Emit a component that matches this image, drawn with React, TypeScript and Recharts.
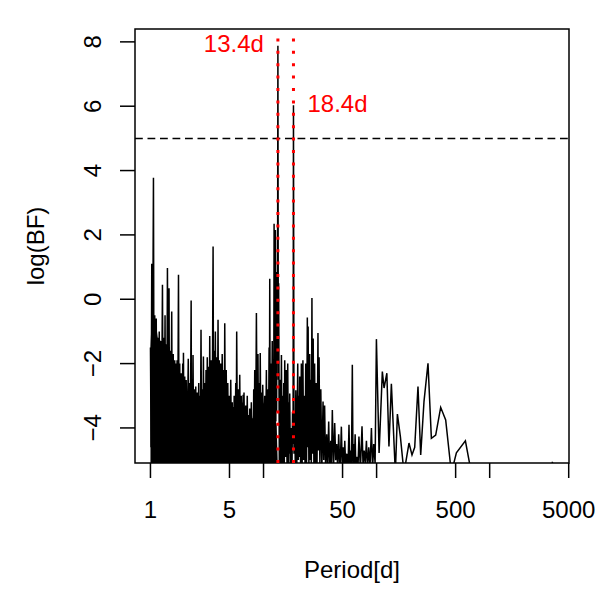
import { ComposedChart, Line, Area, XAxis, YAxis, ReferenceLine, ReferenceArea, ReferenceDot } from "recharts"

const font = '"Liberation Sans", Arial, Helvetica, sans-serif'

const xTicks = [1, 5, 10, 50, 100, 500, 1000, 5000]
const xLabelled = [1, 5, 50, 500, 5000]
const yTicks = [-4, -2, 0, 2, 4, 6, 8]
const xDomain = [0.73, 5030]
const yDomain = [-5.09, 8.4]
const threshold = 5
const peakPeriods = [13.4, 18.4]
const peakLabels = ["13.4d", "18.4d"]

// [period, logBF], short periods (dense forest)
const shortPeriods: number[][] = [
  [1.0, -1.5], [1.013, -4.6], [1.027, 1.1], [1.04, -3.8], [1.052, 0.2], [1.063, 3.78], [1.075, -3.9],
  [1.091, -0.5], [1.105, -4.2], [1.125, -0.6], [1.14, -4.4], [1.16, -1.2], [1.175, -4.3], [1.196, -1.0],
  [1.21, -4.5], [1.233, -1.3], [1.25, -4.4], [1.277, 0.45], [1.295, -4.5], [1.311, -1.2], [1.325, -4.6],
  [1.346, -0.5], [1.36, -4.5], [1.38, -1.4], [1.395, -4.6], [1.413, 0.97], [1.435, -4.4], [1.46, 0.34],
  [1.475, -4.6], [1.496, -1.6], [1.515, -4.5], [1.542, -0.38], [1.56, -4.6], [1.59, -1.7], [1.61, -4.7],
  [1.639, -1.9], [1.655, -4.6], [1.673, -2.0], [1.69, -4.7], [1.72, -1.9], [1.74, -4.6], [1.77, 0.76],
  [1.79, -4.7], [1.815, -2.0], [1.84, -4.6], [1.87, -2.3], [1.89, -4.7], [1.93, -2.0], [1.945, -4.6],
  [1.958, -1.66], [1.98, -4.7], [2.01, -2.4], [2.04, -4.7], [2.07, -2.51], [2.11, -4.6], [2.16, -1.85],
  [2.19, -4.7], [2.226, -2.6], [2.25, -4.7], [2.29, -0.04], [2.31, -4.6], [2.33, -2.5], [2.355, -4.7],
  [2.38, -1.73], [2.41, -4.8], [2.45, -2.8], [2.48, -4.7], [2.515, -2.71], [2.55, -4.8], [2.59, -2.9],
  [2.63, -4.7], [2.673, -2.6], [2.7, -4.8], [2.728, -3.0], [2.76, -4.7], [2.8, -0.95], [2.835, -4.7],
  [2.87, -2.8], [2.905, -4.8], [2.94, -1.78], [2.98, -4.7], [3.02, -2.6], [3.06, -4.6], [3.1, -2.2],
  [3.14, -4.7], [3.18, -1.8], [3.23, -4.6], [3.277, -2.1], [3.31, -4.5], [3.344, -1.14], [3.39, -4.6],
  [3.45, -1.9], [3.51, -4.5], [3.58, 1.64], [3.62, -4.4], [3.66, -1.6], [3.7, -4.5], [3.75, -1.0],
  [3.8, -4.4], [3.856, -1.8], [3.9, -4.5], [3.96, -0.64], [4.01, -4.5], [4.06, -1.9], [4.12, -4.6],
  [4.18, -2.0], [4.24, -4.5], [4.31, -1.7], [4.38, -4.6], [4.45, -2.2], [4.49, -4.7], [4.54, -0.75],
  [4.61, -4.8], [4.68, -2.2], [4.75, -4.9], [4.83, -2.6], [4.9, -4.9], [4.97, -3.0], [5.05, -4.8],
  [5.13, -2.5], [5.21, -4.9], [5.29, -3.2], [5.31, -4.9], [5.34, -3.35], [5.42, -4.9], [5.5, -3.0],
  [5.59, -4.8], [5.68, -2.6], [5.73, -4.8], [5.79, -1.0], [5.88, -4.7], [5.97, -2.8], [6.06, -4.8],
  [6.16, -2.35], [6.25, -4.9], [6.35, -3.0], [6.47, -4.9], [6.6, -2.97], [6.66, -4.9], [6.72, -2.9],
  [6.84, -5.0], [6.96, -3.3], [7.07, -5.0], [7.18, -3.0], [7.29, -5.0], [7.4, -3.6], [7.47, -5.0],
  [7.55, -3.4], [7.67, -5.0], [7.8, -3.2], [7.92, -5.0], [8.03, -3.7], [8.11, -4.9], [8.19, -2.8],
  [8.27, -4.8], [8.36, -2.2], [8.5, -4.7], [8.65, -0.43], [8.79, -4.6], [8.93, -1.7], [9.04, -4.7],
  [9.16, -2.6], [9.25, -4.8], [9.35, -1.67], [9.5, -4.8], [9.64, -2.9], [9.74, -4.8], [9.84, -2.66],
  [10.04, -4.9], [10.25, -3.0], [10.42, -4.8], [10.6, -2.2], [10.75, -4.8], [10.9, -2.8], [11.05, -4.7],
  [11.2, -1.5], [11.27, -4.5], [11.35, 0.64], [11.47, -4.6], [11.6, -2.0], [11.77, -4.6], [11.94, -1.3],
  [12.07, -4.6], [12.2, -2.5], [12.3, -4.4], [12.4, 2.35], [12.48, -4.3], [12.56, -1.0], [12.65, -4.2],
  [12.74, 2.15], [12.85, -3.8], [12.95, 0.3], [13.05, -3.5], [13.15, 0.85], [13.28, -2.0],
]

// around the two significant peaks, out to 100 d
const midPeriods: number[][] = [
  [13.4, 7.88], [13.52, -2.5], [13.6, 0.5], [13.8, -5.3], [13.98, -2.5], [14.2, -5.4], [14.4, -1.73],
  [14.6, -5.3], [14.78, -3.0], [14.95, -5.2], [15.09, -2.6], [15.25, -5.4], [15.4, -1.9], [15.65, -4.9],
  [15.9, -2.2], [16.15, -5.3], [16.37, -2.0], [16.6, -5.3], [16.77, -3.2], [16.9, -4.8], [17.05, -2.93],
  [17.3, -5.4], [17.6, -4.0], [17.85, -5.3], [18.05, -3.5], [18.25, -4.5], [18.4, 6.03], [18.6, -4.8],
  [18.9, -3.5], [19.1, -5.3], [19.3, -2.83], [19.7, -5.2], [20.07, -2.0], [20.3, -5.0], [20.5, -3.0],
  [20.7, -4.9], [20.9, -2.4], [21.3, -5.3], [21.6, -2.0], [21.95, -5.2], [22.3, -1.9], [22.65, -5.0],
  [23.0, -3.0], [23.3, -5.3], [23.61, -2.0], [24.0, -5.2], [24.4, -0.57], [24.6, -4.6], [24.8, -0.85],
  [25.2, -5.3], [25.61, -1.7], [25.85, -5.0], [26.1, -2.5], [26.45, -5.3], [26.8, 0.04], [27.1, -4.8],
  [27.5, -1.22], [27.9, -5.3], [28.3, -2.0], [28.75, -5.1], [29.2, -2.6], [29.7, -5.3], [30.3, -1.05],
  [30.6, -4.7], [31.0, -1.8], [31.5, -5.2], [32.1, -2.8], [32.8, -5.3], [33.6, -3.18], [34.1, -5.0],
  [34.7, -3.3], [35.4, -5.3], [36.2, -4.2], [36.9, -5.2], [37.7, -3.8], [38.5, -5.4], [39.3, -4.4],
  [39.9, -5.1], [40.6, -3.44], [41.6, -5.3], [42.6, -3.85], [43.5, -5.0], [44.4, -4.5], [45.3, -5.3],
  [46.2, -4.2], [47.5, -5.4], [48.8, -3.96], [49.7, -5.2], [50.7, -4.6], [51.5, -5.3], [52.3, -4.4],
  [53.4, -5.3], [54.5, -4.8], [55.8, -5.4], [57.0, -3.9], [57.8, -5.1], [58.6, -4.7], [59.8, -5.4],
  [61.0, -2.04], [61.9, -5.3], [62.7, -4.5], [63.6, -5.2], [64.6, -4.2], [65.6, -5.4], [66.7, -4.9],
  [68.2, -5.4], [69.8, -4.27], [71.9, -5.3], [74.3, -3.95], [75.9, -5.2], [77.6, -4.7], [79.4, -5.1],
  [81.3, -4.4], [83.2, -5.3], [85.2, -4.6], [87.5, -5.2], [90.0, -4.0], [92.1, -5.3], [94.3, -4.5],
  [97.0, -5.1],
]

// long periods, sparse sampling
const longPeriods: number[][] = [
  [99.6, -1.24], [105.2, -4.78], [112.4, -2.25], [116.4, -2.76], [123.2, -2.3], [128.6, -4.58],
  [135.1, -2.63], [146.5, -5.4], [152.7, -3.57], [162.3, -4.27], [174.7, -5.4], [193.4, -4.47],
  [205.6, -4.84], [217.3, -4.6], [232.3, -2.71], [245.5, -4.84], [262.5, -3.18], [284.8, -1.99],
  [305.1, -4.32], [333.1, -4.22], [368.8, -3.36], [408.3, -3.75], [458.6, -5.4], [507.7, -4.77],
  [609.9, -4.4], [688.9, -5.4], [900, -6.5], [1400, -7.0], [2200, -6.8], [3000, -6.2], [3600, -5.05],
]

// level below which the short-period forest is solid black
const noiseFloor: number[][] = [
  [1.0, -1.5], [1.03, -0.4], [1.07, -0.5], [1.114, -0.7], [1.16, -1.2], [1.233, -1.3], [1.338, -1.4],
  [1.481, -1.8], [1.639, -2.2], [1.815, -2.5], [2.01, -2.7], [2.226, -3.0], [2.464, -3.2], [2.728, -3.4],
  [2.959, -3.1], [3.211, -2.6], [3.483, -2.2], [3.779, -2.0], [4.099, -2.0], [4.539, -2.5], [5.025, -3.4],
  [5.451, -3.7], [5.913, -3.3], [6.547, -3.2], [7.249, -3.7], [7.864, -4.0], [8.531, -2.8], [9.255, -3.0],
  [10.25, -3.3], [11.35, -3.5], [12.31, -3.6], [13.08, -3.9], [13.4, -5.3],
]

const toPoints = (rows: number[][]) => rows.map(([period, logBF]) => ({ period, logBF }))
const bfData = toPoints([...shortPeriods, ...midPeriods, ...longPeriods])
const floorData = toPoints(noiseFloor)

const textStyle = { fontFamily: font, fontSize: 24, fill: "#000" }

function YTick({ x, y, payload }: any) {
  const cx = x - 28
  return (
    <text x={cx} y={y} dy="0.355em" transform={`rotate(-90, ${cx}, ${y})`} textAnchor="middle" style={textStyle}>
      {String(payload.value).replace("-", "\u2212")}
    </text>
  )
}

export default function App() {
  return (
    <div style={{ position: "absolute", left: 0, top: 0, background: "#fff" }}>
      <ComposedChart width={600} height={600} margin={{ top: 29, right: 31, bottom: 0, left: 0 }}>
        <XAxis
          dataKey="period"
          type="number"
          scale="log"
          domain={xDomain}
          allowDataOverflow
          ticks={xTicks}
          interval={0}
          height={137}
          tickSize={15}
          tickMargin={23}
          axisLine={false}
          tickLine={{ stroke: "#000", strokeWidth: 1.5 }}
          tick={textStyle}
          tickFormatter={(v) => (xLabelled.includes(v) ? String(v) : "")}
          label={{ value: "Period[d]", position: "insideBottom", offset: 22, style: textStyle }}
        />
        <YAxis
          type="number"
          domain={yDomain}
          allowDataOverflow
          ticks={yTicks}
          interval={0}
          width={135}
          tickSize={15}
          tickMargin={0}
          axisLine={false}
          tickLine={{ stroke: "#000", strokeWidth: 1.5 }}
          tick={<YTick />}
          label={{ value: "log(BF)", angle: -90, position: "insideLeft", offset: 35, style: { ...textStyle, textAnchor: "middle" } }}
        />
        <Area
          data={floorData}
          dataKey="logBF"
          type="linear"
          baseValue="dataMin"
          fill="#000"
          fillOpacity={1}
          stroke="none"
          isAnimationActive={false}
        />
        <Line
          data={bfData}
          dataKey="logBF"
          type="linear"
          stroke="#000"
          strokeWidth={1.5}
          dot={false}
          isAnimationActive={false}
        />
        <ReferenceLine y={threshold} stroke="#000" strokeWidth={1.5} strokeDasharray="7.8 4.7" />
        {peakPeriods.map((p) => (
          <ReferenceLine key={p} x={p} stroke="#ff0000" strokeWidth={3} strokeDasharray="3 9.4" />
        ))}
        <ReferenceDot
          x={peakPeriods[0]}
          y={7.94}
          r={0}
          fill="none"
          stroke="none"
          label={{ value: peakLabels[0], position: "left", offset: 14, style: { ...textStyle, fill: "#ff0000" } }}
        />
        <ReferenceDot
          x={peakPeriods[1]}
          y={6.1}
          r={0}
          fill="none"
          stroke="none"
          label={{ value: peakLabels[1], position: "right", offset: 14, style: { ...textStyle, fill: "#ff0000" } }}
        />
        <ReferenceArea
          x1={xDomain[0]}
          x2={xDomain[1]}
          y1={yDomain[0]}
          y2={yDomain[1]}
          fill="none"
          stroke="#000"
          strokeWidth={1.5}
          ifOverflow="visible"
        />
      </ComposedChart>
    </div>
  )
}
